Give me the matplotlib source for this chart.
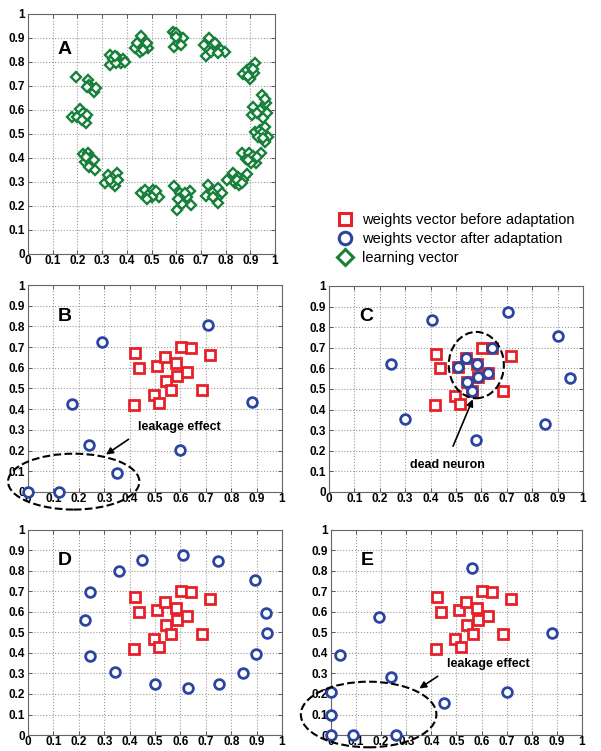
import matplotlib.pyplot as plt
import numpy as np
from matplotlib.lines import Line2D
from matplotlib.patches import Ellipse
from matplotlib.ticker import MultipleLocator, FormatStrFormatter

plt.rcParams['font.family'] = ['Liberation Sans', 'DejaVu Sans']

RED = '#e8202a'
BLUE = '#2b45a0'
GREEN = '#17803a'

# learning vectors (panel A), grouped by cluster
learn_x = [0.196, 0.243, 0.247, 0.257, 0.268, 0.277, 0.239,
           0.180, 0.209, 0.199, 0.223, 0.230, 0.234, 0.239, 0.220,
           0.223, 0.243, 0.250, 0.230, 0.257, 0.266, 0.247, 0.270, 0.236,
           0.311, 0.324, 0.345, 0.361, 0.351, 0.342, 0.331, 0.365,
           0.459, 0.473, 0.486, 0.507, 0.514, 0.531, 0.520, 0.500, 0.480,
           0.591, 0.615, 0.628, 0.604, 0.655, 0.658, 0.642, 0.622, 0.635, 0.608,
           0.720, 0.730, 0.750, 0.770, 0.784, 0.764, 0.770, 0.747,
           0.804, 0.831, 0.851, 0.885, 0.838, 0.855, 0.872, 0.846, 0.865,
           0.865, 0.882, 0.896, 0.912, 0.942, 0.923, 0.901, 0.892, 0.926,
           0.919, 0.939, 0.959, 0.970, 0.959, 0.946, 0.932, 0.950,
           0.912, 0.908, 0.939, 0.949, 0.964, 0.966, 0.953, 0.926, 0.959,
           0.869, 0.885, 0.901, 0.919, 0.899, 0.915, 0.892, 0.909,
           0.712, 0.734, 0.750, 0.719, 0.739, 0.764, 0.780, 0.797, 0.770, 0.757,
           0.585, 0.601, 0.591, 0.615, 0.626, 0.608, 0.620, 0.599,
           0.446, 0.459, 0.453, 0.469, 0.486, 0.480, 0.464, 0.432, 0.442,
           0.331, 0.331, 0.345, 0.361, 0.372, 0.385, 0.378, 0.358, 0.392, 0.351]
learn_y = [0.736, 0.725, 0.704, 0.690, 0.676, 0.690, 0.694,
           0.572, 0.603, 0.572, 0.586, 0.565, 0.544, 0.579, 0.558,
           0.417, 0.422, 0.399, 0.385, 0.378, 0.392, 0.364, 0.350, 0.406,
           0.297, 0.329, 0.315, 0.336, 0.283, 0.297, 0.308, 0.308,
           0.256, 0.267, 0.246, 0.267, 0.253, 0.239, 0.264, 0.239, 0.228,
           0.283, 0.253, 0.225, 0.183, 0.264, 0.204, 0.239, 0.208, 0.253, 0.228,
           0.242, 0.288, 0.260, 0.274, 0.256, 0.232, 0.214, 0.239,
           0.308, 0.336, 0.322, 0.333, 0.297, 0.286, 0.308, 0.308, 0.294,
           0.422, 0.394, 0.419, 0.408, 0.422, 0.378, 0.378, 0.392, 0.403,
           0.510, 0.517, 0.531, 0.489, 0.468, 0.503, 0.489, 0.482,
           0.614, 0.579, 0.600, 0.663, 0.628, 0.586, 0.565, 0.589, 0.646,
           0.750, 0.767, 0.781, 0.794, 0.728, 0.753, 0.742, 0.769,
           0.871, 0.899, 0.871, 0.825, 0.843, 0.857, 0.850, 0.843, 0.836, 0.881,
           0.926, 0.919, 0.864, 0.892, 0.900, 0.878, 0.871, 0.903,
           0.864, 0.908, 0.843, 0.867, 0.857, 0.881, 0.850, 0.857, 0.878,
           0.829, 0.788, 0.811, 0.819, 0.801, 0.811, 0.794, 0.794, 0.801, 0.825]

# weights before adaptation (same in B-E)
before_x = [0.421, 0.438, 0.417, 0.496, 0.517, 0.509, 0.538, 0.542,
            0.564, 0.583, 0.587, 0.626, 0.603, 0.642, 0.717, 0.684]
before_y = [0.672, 0.600, 0.421, 0.467, 0.429, 0.608, 0.651, 0.536,
            0.491, 0.621, 0.560, 0.579, 0.701, 0.698, 0.662, 0.491]

# weights after adaptation, per panel
after_b_x = [0.709, 0.293, 0.175, 0.880, 0.241, 0.599, 0.351, 0.0, 0.122]
after_b_y = [0.806, 0.726, 0.427, 0.435, 0.227, 0.202, 0.090, 0.0, 0.0]

after_c_x = [0.705, 0.405, 0.900, 0.244, 0.949, 0.300, 0.850, 0.579,
             0.642, 0.538, 0.509, 0.583, 0.626, 0.587, 0.542, 0.564]
after_c_y = [0.874, 0.835, 0.757, 0.620, 0.553, 0.354, 0.330, 0.252,
             0.698, 0.651, 0.608, 0.621, 0.579, 0.560, 0.536, 0.491]

after_d_x = [0.609, 0.450, 0.749, 0.357, 0.893, 0.246, 0.225, 0.937,
             0.941, 0.899, 0.243, 0.343, 0.846, 0.499, 0.628, 0.751]
after_d_y = [0.880, 0.854, 0.851, 0.800, 0.755, 0.696, 0.563, 0.595,
             0.496, 0.395, 0.384, 0.307, 0.304, 0.248, 0.230, 0.248]

after_e_x = [0.561, 0.190, 0.036, 0.882, 0.238, 0.701, 0.451,
             0.0, 0.0, 0.0, 0.089, 0.258]
after_e_y = [0.816, 0.576, 0.392, 0.496, 0.285, 0.211, 0.155,
             0.208, 0.096, 0.0, 0.0, 0.0]

legend_labels = ['weights vector before adaptation',
                 'weights vector after adaptation',
                 'learning vector']


def style_axes(ax, label):
    ax.set_xlim(0, 1)
    ax.set_ylim(0, 1)
    ax.xaxis.set_major_locator(MultipleLocator(0.1))
    ax.yaxis.set_major_locator(MultipleLocator(0.1))
    ax.xaxis.set_major_formatter(FormatStrFormatter('%g'))
    ax.yaxis.set_major_formatter(FormatStrFormatter('%g'))
    ax.grid(True, ls=':', color='#9a9a9a', lw=0.8)
    ax.set_axisbelow(True)
    ax.tick_params(direction='in', length=3, width=0.6, labelsize=8.5, pad=2,
                   top=True, right=True, colors='#444444', labelcolor='black')
    ax.tick_params(axis='x', pad=1)
    for t in ax.get_xticklabels() + ax.get_yticklabels():
        t.set_fontweight('bold')
    for s in ax.spines.values():
        s.set_color('#666666')
        s.set_linewidth(0.8)
    ax.text(0.118, 0.85, label, fontsize=14, fontweight='bold', va='center', ha='left')


def draw_weights(ax, ax_x, ax_y):
    ax.plot(before_x, before_y, 's', ms=6.5, mfc='white', mec=RED, mew=2,
            ls='none', clip_on=False, zorder=3)
    ax.plot(ax_x, ax_y, 'o', ms=7, mfc='white', mec=BLUE, mew=2,
            ls='none', clip_on=False, zorder=4)


fig = plt.figure(figsize=(6.01, 7.51), dpi=100)

axA = fig.add_axes([0.0466, 0.6618, 0.411, 0.3196])
axB = fig.add_axes([0.0466, 0.3449, 0.4226, 0.2756])
axC = fig.add_axes([0.5474, 0.3449, 0.4226, 0.2743])
axD = fig.add_axes([0.0466, 0.0213, 0.4226, 0.273])
axE = fig.add_axes([0.5507, 0.0213, 0.4176, 0.273])

axA.plot(learn_x, learn_y, 'D', ms=5.5, mfc='white', mec=GREEN, mew=1.7,
         ls='none', zorder=3)
style_axes(axA, 'A')

draw_weights(axB, after_b_x, after_b_y)
style_axes(axB, 'B')
axB.add_patch(Ellipse((0.18, 0.05), 0.517, 0.27, fill=False, ls='--',
                      lw=1.5, ec='black', clip_on=False, zorder=5))
axB.annotate('leakage effect', xy=(0.307, 0.181), xytext=(0.434, 0.315),
             fontsize=9, fontweight='bold', va='center', ha='left',
             arrowprops=dict(arrowstyle='-|>', color='black', lw=1.2,
                             shrinkA=6, shrinkB=0, mutation_scale=10,
                             relpos=(0.0, 0.0)))

draw_weights(axC, after_c_x, after_c_y)
style_axes(axC, 'C')
axC.add_patch(Ellipse((0.58, 0.616), 0.217, 0.322, fill=False, ls='--',
                      lw=1.5, ec='black', zorder=5))
axC.annotate('dead neuron', xy=(0.566, 0.45), xytext=(0.467, 0.13),
             fontsize=9, fontweight='bold', va='center', ha='center',
             arrowprops=dict(arrowstyle='-|>', color='black', lw=1.2,
                             shrinkA=8, shrinkB=0, mutation_scale=10,
                             relpos=(0.5, 1.0)))

draw_weights(axD, after_d_x, after_d_y)
style_axes(axD, 'D')

draw_weights(axE, after_e_x, after_e_y)
style_axes(axE, 'E')
axE.add_patch(Ellipse((0.15, 0.1), 0.54, 0.32, fill=False, ls='--',
                      lw=1.5, ec='black', clip_on=False, zorder=5))
axE.annotate('leakage effect', xy=(0.352, 0.227), xytext=(0.464, 0.347),
             fontsize=9, fontweight='bold', va='center', ha='left',
             arrowprops=dict(arrowstyle='-|>', color='black', lw=1.2,
                             shrinkA=6, shrinkB=0, mutation_scale=10,
                             relpos=(0.0, 0.0)))

handles = [
    Line2D([], [], marker='s', ls='none', ms=8, mfc='white', mec=RED, mew=2.2),
    Line2D([], [], marker='o', ls='none', ms=9, mfc='white', mec=BLUE, mew=2.2),
    Line2D([], [], marker='D', ls='none', ms=8, mfc='white', mec=GREEN, mew=2.2),
]
fig.legend(handles, legend_labels, loc='upper left',
           bbox_to_anchor=(330 / 601, 1 - 207 / 751), frameon=False,
           fontsize=10.5, handletextpad=0.6, labelspacing=0.35,
           borderaxespad=0, handlelength=1.2)

fig.savefig('out.png', dpi=100)
